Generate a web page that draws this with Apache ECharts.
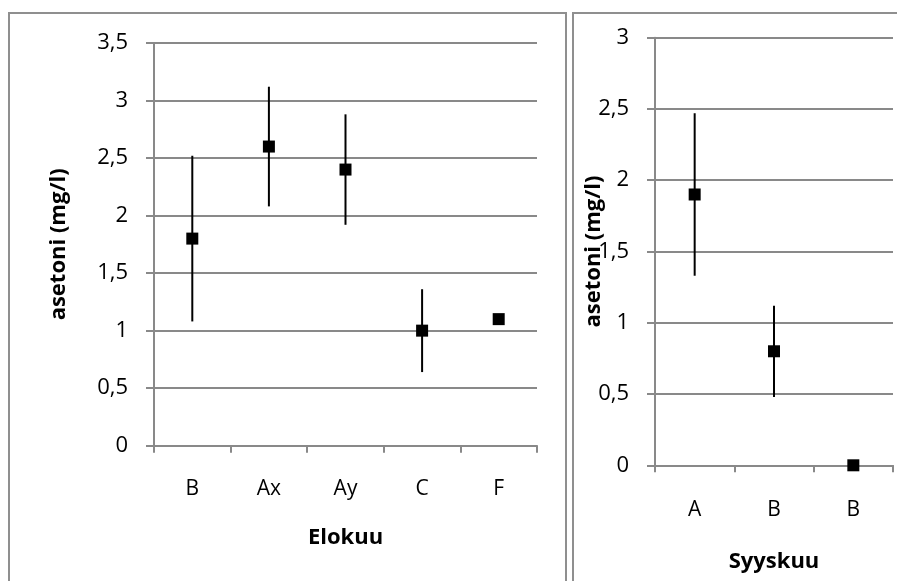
<!DOCTYPE html>
<html>
<head>
<meta charset="utf-8">
<script src="https://cdn.jsdelivr.net/npm/echarts@6/dist/echarts.min.js"></script>
<style>
  html, body { margin: 0; padding: 0; background: #ffffff; }
  #chart { width: 897px; height: 581px; }
</style>
</head>
<body>
<div id="chart"></div>
<script>
// August samples (Elokuu)
const augCategories = ['B', 'Ax', 'Ay', 'C', 'F'];
const augValues = [1.8, 2.6, 2.4, 1.0, 1.1];
const augErrors = [0.72, 0.52, 0.48, 0.36, 0];

// September samples (Syyskuu)
const sepCategories = ['A', 'B', 'B'];
const sepValues = [1.9, 0.8, 0.0];
const sepErrors = [0.57, 0.32, 0];

// Axis settings
const augYMax = 3.5;
const sepYMax = 3;
const yStep = 0.5;
const yTitle = 'asetoni (mg/l)';
const augTitle = 'Elokuu';
const sepTitle = 'Syyskuu';

const FONT = '"Open Sans", "Liberation Sans", sans-serif';
const GRID_GRAY = '#898989';

function comma(v) { return String(v).replace('.', ','); }

function errorBars(values, errors, axisIndex) {
  const data = [];
  values.forEach((v, i) => {
    if (errors[i] > 0) data.push([i, v - errors[i], v + errors[i]]);
  });
  return {
    type: 'custom',
    xAxisIndex: axisIndex,
    yAxisIndex: axisIndex,
    z: 2,
    silent: true,
    renderItem: function (params, api) {
      const p1 = api.coord([api.value(0), api.value(1)]);
      const p2 = api.coord([api.value(0), api.value(2)]);
      return {
        type: 'line',
        shape: { x1: p1[0], y1: p1[1], x2: p2[0], y2: p2[1] },
        style: { stroke: '#000', lineWidth: 2 }
      };
    },
    data: data
  };
}

function markers(values, axisIndex) {
  return {
    type: 'scatter',
    xAxisIndex: axisIndex,
    yAxisIndex: axisIndex,
    symbol: 'rect',
    symbolSize: 12,
    z: 3,
    silent: true,
    itemStyle: { color: '#000', opacity: 1 },
    data: values.map((v, i) => [i, v])
  };
}

function xAxisCfg(cats, gridIndex, title, labelMargin, gap) {
  return {
    type: 'category',
    gridIndex: gridIndex,
    data: cats,
    boundaryGap: true,
    axisLine: { lineStyle: { color: GRID_GRAY, width: 2 } },
    axisTick: { show: true, length: 7, lineStyle: { color: GRID_GRAY, width: 2 } },
    axisLabel: { color: '#000', fontFamily: FONT, fontSize: 21, margin: labelMargin },
    name: title,
    nameLocation: 'middle',
    nameGap: gap,
    nameMoveOverlap: false,
    nameTextStyle: { color: '#000', fontFamily: FONT, fontSize: 22, fontWeight: 'bold' }
  };
}

function yAxisCfg(max, gridIndex, gap) {
  return {
    type: 'value',
    gridIndex: gridIndex,
    min: 0,
    max: max,
    interval: yStep,
    axisLine: { show: true, lineStyle: { color: GRID_GRAY, width: 2 } },
    axisTick: { show: true, length: 8, lineStyle: { color: GRID_GRAY, width: 2 } },
    splitLine: { show: true, lineStyle: { color: GRID_GRAY, width: 2 } },
    axisLabel: {
      color: '#000', fontFamily: FONT, fontSize: 22, margin: 26,
      formatter: comma
    },
    name: yTitle,
    nameLocation: 'middle',
    nameGap: gap,
    nameMoveOverlap: false,
    nameTextStyle: { color: '#000', fontFamily: FONT, fontSize: 22, fontWeight: 'bold' }
  };
}

const chart = echarts.init(document.getElementById('chart'), null, { renderer: 'canvas' });

chart.setOption({
  backgroundColor: '#ffffff',
  animation: false,
  graphic: [
    {
      type: 'polyline',
      shape: { points: [[9, 600], [9, 13], [566, 13], [566, 600]] },
      style: { stroke: '#8f8f8f', lineWidth: 2, fill: null },
      silent: true
    },
    {
      type: 'polyline',
      shape: { points: [[573, 600], [573, 13], [910, 13]] },
      style: { stroke: '#8f8f8f', lineWidth: 2, fill: null },
      silent: true
    }
  ],
  grid: [
    { left: 154, top: 43, width: 383, height: 402.7 },
    { left: 655, top: 37.7, width: 238, height: 427.6 }
  ],
  xAxis: [
    xAxisCfg(augCategories, 0, augTitle, 33, 81),
    xAxisCfg(sepCategories, 1, sepTitle, 34, 85)
  ],
  yAxis: [
    yAxisCfg(augYMax, 0, 84),
    yAxisCfg(sepYMax, 1, 50)
  ],
  series: [
    errorBars(augValues, augErrors, 0),
    errorBars(sepValues, sepErrors, 1),
    markers(augValues, 0),
    markers(sepValues, 1)
  ]
});
</script>
</body>
</html>
